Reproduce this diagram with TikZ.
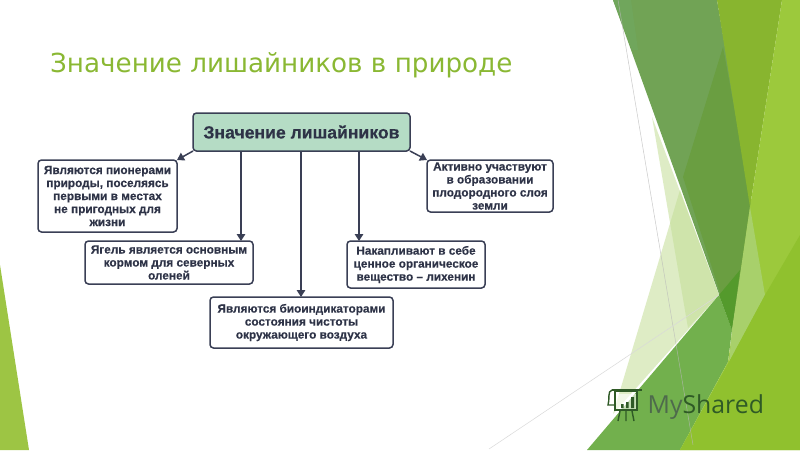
\documentclass[tikz,border=0pt]{standalone}
\usepackage{fontspec}
\setmainfont{Liberation Sans}
\newfontfamily\titlefont{DejaVu Sans}
\newfontfamily\logofont{Open Sans}
\newfontfamily\heavyfont[FakeBold=0.35]{Liberation Sans Bold}
\usetikzlibrary{arrows.meta}
\definecolor{ink}{HTML}{3A3F55}
\definecolor{txt}{HTML}{2E3347}
\definecolor{headfill}{HTML}{B5DCC5}
\definecolor{titlegreen}{HTML}{8AB833}
\definecolor{logogrey}{HTML}{4E6A4C}
\definecolor{logodark}{HTML}{2F5A26}
\tikzset{
  box/.style={draw=ink,line width=1.5pt,rounded corners=3.5pt,fill=white,inner sep=0pt,outer sep=0pt,align=center,text=txt,
    font=\heavyfont\fontsize{11.8}{13}\selectfont},
  headbox/.style={box,fill=headfill,font=\heavyfont\fontsize{17.6}{20}\selectfont},
  conn/.style={draw=ink,line width=1.5pt,-{Triangle[length=7pt,width=8.5pt]}},
  panel/.style={draw=none},
  hair/.style={draw=#1,line width=0.5pt},
}
\begin{document}
\begin{tikzpicture}[x=1pt,y=-1pt]
\useasboundingbox (0,0) rectangle (800,450);
\fill[white] (0,0) rectangle (800,450);
% left wedge
\fill[panel,fill={rgb,255:red,157;green,197;blue,68}] (0,265) -- (29,450) -- (0,450) -- cycle;
% pale panels
\fill[panel,fill={rgb,255:red,195;green,222;blue,150},opacity=.55] (652,117) -- (688,328) -- (719,295) -- cycle;
\fill[panel,fill={rgb,255:red,195;green,222;blue,150},opacity=.55] (680,190) -- (613,414) -- (719,295) -- cycle;
% grey-green band
\fill[panel,fill={rgb,255:red,113;green,163;blue,85}] (613,0) -- (717,0) -- (752,205) -- (732,330) -- cycle;
\fill[panel,fill={rgb,255:red,112;green,166;blue,92}] (613,0) -- (631,0) -- (638,50) -- (632,50) -- cycle;
\fill[panel,fill={rgb,255:red,106;green,158;blue,65}] (723,47) -- (683,177) -- (732,330) -- (752,205) -- cycle;
% olive
\fill[panel,fill={rgb,255:red,136;green,181;blue,47}] (717,0) -- (782,0) -- (750,207) -- cycle;
% mid green
\fill[panel,fill={rgb,255:red,114;green,176;blue,77}] (719,295) -- (587,450) -- (680,450) -- (728,362) -- (732,330) -- cycle;
\fill[panel,fill={rgb,255:red,84;green,154;blue,44}] (719,295) -- (740,270) -- (732,330) -- cycle;
% bright
\fill[panel,fill={rgb,255:red,156;green,201;blue,60}] (782,0) -- (800,0) -- (800,450) -- (680,450) -- (728,362) -- (750,207) -- cycle;
\fill[panel,fill={rgb,255:red,168;green,208;blue,107}] (750,207) -- (765,295) -- (729,362) -- (732,330) -- cycle;
\fill[panel,fill={rgb,255:red,144;green,193;blue,46}] (800,235) -- (765,295) -- (729,362) -- (680,450) -- (800,450) -- cycle;
% thin lines
\draw[hair=gray!55,opacity=.75] (618,0) -- (693,445);
\draw[hair=gray!30] (489,449) -- (719,295);
% title
\node[anchor=base west,inner sep=0pt,text=titlegreen,font=\titlefont\fontsize{26.2}{32}\selectfont] (title) at (50,72) {Значение лишайников в природе};
% boxes
\node[headbox,minimum width=217pt,minimum height=38pt] (head) at (301.5,132) {Значение лишайников};
\node[box,minimum width=139pt,minimum height=72pt] (pioneer) at (107.5,196) {Являются пионерами\\природы, поселяясь\\первыми в местах\\не пригодных для\\жизни};
\node[box,minimum width=168pt,minimum height=43pt] (yagel) at (169,262.5) {Ягель является основным\\кормом для северных\\оленей};
\node[box,minimum width=183pt,minimum height=51pt] (bio) at (301.5,322.5) {Являются биоиндикаторами\\состояния чистоты\\окружающего воздуха};
\node[box,minimum width=138pt,minimum height=47pt] (lichen) at (416,264.5) {Накапливают в себе\\ценное органическое\\вещество – лихенин};
\node[box,minimum width=126pt,minimum height=52pt] (soil) at (490,186) {Активно участвуют\\в образовании\\плодородного слоя\\земли};
% connectors
\coordinate (ax) at (241,0);
\coordinate (cx) at (301,0);
\coordinate (bx) at (359,0);
\draw[conn] (head.south west) -- (pioneer.north east);
\draw[conn] (ax |- head.south) -- (ax |- yagel.north);
\draw[conn] (cx |- head.south) -- (cx |- bio.north);
\draw[conn] (bx |- head.south) -- (bx |- lichen.north);
\draw[conn] (head.south east) -- (soil.north west);
% logo
\begin{scope}[draw=logodark,line width=1.4pt]
\fill[white,opacity=.6] (615,394) rectangle (637,410);
\draw (612,390) -- (642,390);
\draw (612,390) .. controls (607,391) and (610,400) .. (608,405) -- (614,405);
\draw (615,391) rectangle (637,410);
\draw (620,411) -- (618,421) (632,411) -- (634,421) (626,411) -- (626,421);
\fill[logodark] (621,404) rectangle (623.5,408) (626,402) rectangle (628.5,408) (631,397) rectangle (634,408);
\end{scope}
\node[anchor=base west,inner sep=0pt,font=\logofont\fontsize{24.8}{28}\selectfont] (logo) at (647.5,413) {\textcolor{logogrey}{My}\textcolor{logodark}{Shared}};
\end{tikzpicture}
\end{document}
